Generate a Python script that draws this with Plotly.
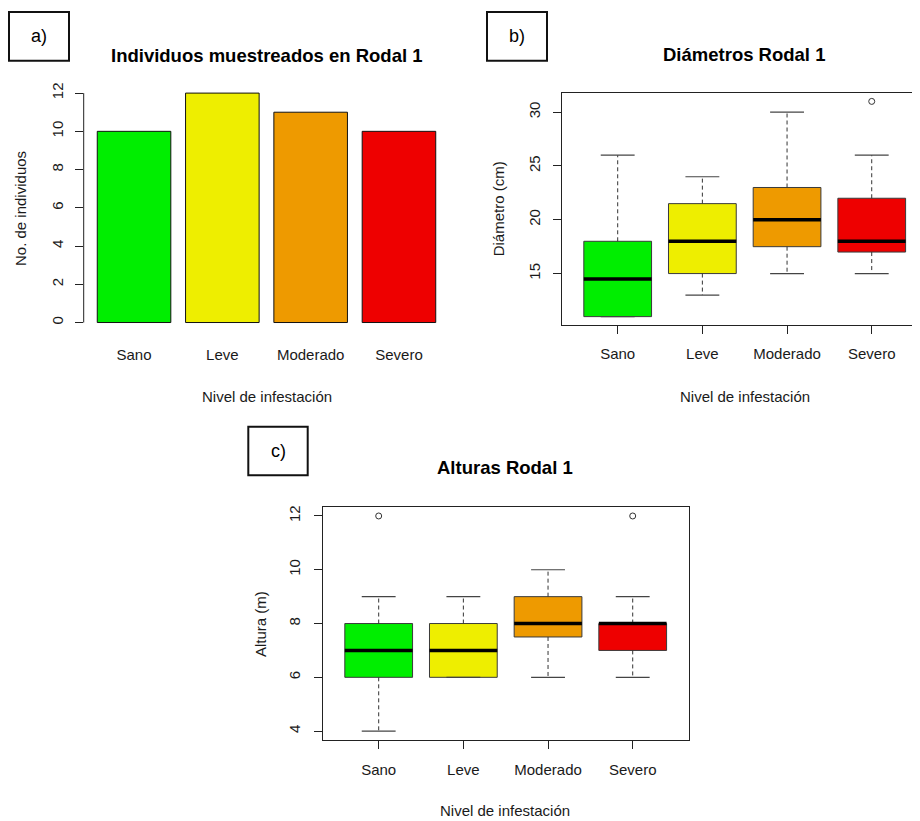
import plotly.graph_objects as go

# ---------------- data ----------------
categories = ["Sano", "Leve", "Moderado", "Severo"]
colors = ["#00EE00", "#EEEE00", "#EE9A00", "#EE0000"]

# a) counts
counts = [10, 12, 11, 10]

# b) Diámetro (cm) box stats
diam_low = [11, 13, 15, 15]
diam_q1 = [11, 15, 17.5, 17]
diam_med = [14.5, 18, 20, 18]
diam_q3 = [18, 21.5, 23, 22]
diam_high = [26, 24, 30, 26]
diam_out_cat = ["Severo"]
diam_out_val = [31]

# c) Altura (m) box stats
alt_low = [4, 6, 6, 6]
alt_q1 = [6, 6, 7.5, 7]
alt_med = [7, 7, 8, 8]
alt_q3 = [8, 8, 9, 8]
alt_high = [9, 9, 10, 9]
alt_out_cat = ["Sano", "Severo"]
alt_out_val = [12, 12]

# ---------------- layout helpers ----------------
OFF = 8  # page body margin of the html page
W, H = 920 - OFF, 821 - OFF
def px(x):
    return (x - OFF) / W
def py(y):
    return 1 - (y - OFF) / H

FONT = "Liberation Sans, Arial, sans-serif"
TXT = "#1a1a1a"
LINE = "#222222"

fig = go.Figure()

# ---- panel a: bars ----
fig.add_trace(go.Bar(
    x=categories, y=counts, width=0.833,
    marker=dict(color=colors, line=dict(color="#111111", width=1)),
    xaxis="x", yaxis="y", hoverinfo="x+y",
))

BOXW = 0.8
CAPW = 0.4

def add_boxes(xa, ya, low, q1, med, q3, high, out_cat, out_val):
    idx = list(range(len(categories)))
    # whiskers (dashed)
    wx, wy = [], []
    for i in idx:
        if high[i] > q3[i]:
            wx += [i, i, None]; wy += [q3[i], high[i], None]
        if low[i] < q1[i]:
            wx += [i, i, None]; wy += [q1[i], low[i], None]
    fig.add_trace(go.Scatter(x=wx, y=wy, mode="lines", xaxis=xa, yaxis=ya,
                             line=dict(color="#333333", width=1, dash="4px,3px"),
                             hoverinfo="skip"))
    # caps
    cx, cy = [], []
    for i in idx:
        cx += [i - CAPW / 2, i + CAPW / 2, None]; cy += [high[i], high[i], None]
        cx += [i - CAPW / 2, i + CAPW / 2, None]; cy += [low[i], low[i], None]
    fig.add_trace(go.Scatter(x=cx, y=cy, mode="lines", xaxis=xa, yaxis=ya,
                             line=dict(color="#444444", width=1.2), hoverinfo="skip"))
    # boxes
    fig.add_trace(go.Bar(
        x=idx, y=[q3[i] - q1[i] for i in idx], base=q1, width=BOXW,
        marker=dict(color=colors, line=dict(color="#3a3a3a", width=1)),
        xaxis=xa, yaxis=ya, hoverinfo="skip",
    ))
    # medians
    mx, my = [], []
    for i in idx:
        mx += [i - BOXW / 2, i + BOXW / 2, None]; my += [med[i], med[i], None]
    fig.add_trace(go.Scatter(x=mx, y=my, mode="lines", xaxis=xa, yaxis=ya,
                             line=dict(color="#000000", width=3.5), hoverinfo="skip"))
    # outliers
    fig.add_trace(go.Scatter(
        x=[categories.index(c) for c in out_cat], y=out_val, mode="markers",
        xaxis=xa, yaxis=ya,
        marker=dict(symbol="circle-open", size=6, color="#333333", line=dict(width=1)),
        hoverinfo="y"))

add_boxes("x2", "y2", diam_low, diam_q1, diam_med, diam_q3, diam_high, diam_out_cat, diam_out_val)
add_boxes("x3", "y3", alt_low, alt_q1, alt_med, alt_q3, alt_high, alt_out_cat, alt_out_val)

tickfont = dict(family=FONT, size=15, color=TXT)

yax_common = dict(showgrid=False, zeroline=False, ticks="outside", ticklen=8,
                  tickcolor=LINE, tickangle=-90, tickfont=tickfont)

fig.update_layout(
    width=W, height=H, margin=dict(l=0, r=0, t=0, b=0),
    paper_bgcolor="white", plot_bgcolor="white", showlegend=False,
    font=dict(family=FONT, size=15, color=TXT),
    # panel a
    xaxis=dict(domain=[px(83.7), px(449.3)], range=[-0.57, 3.57], type="category",
               showline=False, showgrid=False, zeroline=False, ticks="",
               tickfont=tickfont, ticklabelstandoff=12, anchor="y"),
    yaxis=dict(domain=[py(330.5), py(82.1)], range=[-0.48, 12.48],
               tickvals=[0, 2, 4, 6, 8, 10, 12], showline=False, anchor="x",
               ticklabelstandoff=6, **yax_common),
    # panel b
    xaxis2=dict(domain=[px(561.8), 1.0], range=[-0.66, 3.57], tickvals=[0, 1, 2, 3],
                ticktext=categories, showline=True, mirror=True, linecolor=LINE, linewidth=1,
                showgrid=False, zeroline=False, ticks="outside", ticklen=8, tickcolor=LINE,
                tickfont=tickfont, ticklabelstandoff=7, anchor="y2"),
    yaxis2=dict(domain=[py(324), py(91)], range=[10.2, 31.8], tickvals=[15, 20, 25, 30],
                showline=True, mirror=False, linecolor=LINE, linewidth=1, anchor="x2",
                ticklabelstandoff=7, **yax_common),
    # panel c
    xaxis3=dict(domain=[px(322.8), px(688.6)], range=[-0.66, 3.66], tickvals=[0, 1, 2, 3],
                ticktext=categories, showline=True, mirror=True, linecolor=LINE, linewidth=1,
                showgrid=False, zeroline=False, ticks="outside", ticklen=8, tickcolor=LINE,
                tickfont=tickfont, ticklabelstandoff=8, anchor="y3"),
    yaxis3=dict(domain=[py(739.5), py(506.6)], range=[3.68, 12.32], tickvals=[4, 6, 8, 10, 12],
                showline=True, mirror=True, linecolor=LINE, linewidth=1, anchor="x3",
                ticklabelstandoff=8, **yax_common),
)

# axis line for barplot (spans tick range only, as in R)
fig.add_shape(type="line", xref="paper", yref="y", x0=px(83.7), x1=px(83.7), y0=0, y1=12,
              line=dict(color=LINE, width=1))

# panel label boxes
for (x0, y0, x1, y1, lab) in [(9, 10, 69, 59, "a)"), (487, 10, 547, 59, "b)"),
                              (248.3, 425.7, 307.7, 474.3, "c)")]:
    fig.add_shape(type="rect", xref="paper", yref="paper", x0=px(x0), x1=px(x1),
                  y0=py(y1), y1=py(y0), line=dict(color="#111111", width=2))
    fig.add_annotation(x=px((x0 + x1) / 2), y=py((y0 + y1) / 2), xref="paper", yref="paper",
                       text=lab, showarrow=False, xanchor="center", yanchor="middle",
                       font=dict(family=FONT, size=18, color="#000000"))

def title(text, x, y):
    fig.add_annotation(x=px(x), y=py(y), xref="paper", yref="paper", text=text,
                       showarrow=False, xanchor="center", yanchor="middle",
                       font=dict(family=FONT, size=18.5, color="#000000", weight="bold"))

def label(text, x, y, angle=0):
    fig.add_annotation(x=px(x), y=py(y), xref="paper", yref="paper", text=text,
                       showarrow=False, xanchor="center", yanchor="middle", textangle=angle,
                       font=dict(family=FONT, size=15, color=TXT))

title("Individuos muestreados en Rodal 1", 266, 54)
title("Diámetros Rodal 1", 744, 53)
title("Alturas Rodal 1", 505, 467)

label("Nivel de infestación", 266.5, 395)
label("Nivel de infestación", 744.5, 395)
label("Nivel de infestación", 505.5, 810)
label("No. de individuos", 20.5, 207, -90)
label("Diámetro (cm)", 498.3, 207.5, -90)
label("Altura (m)", 260.3, 623.3, -90)

fig.write_html("out.html")
